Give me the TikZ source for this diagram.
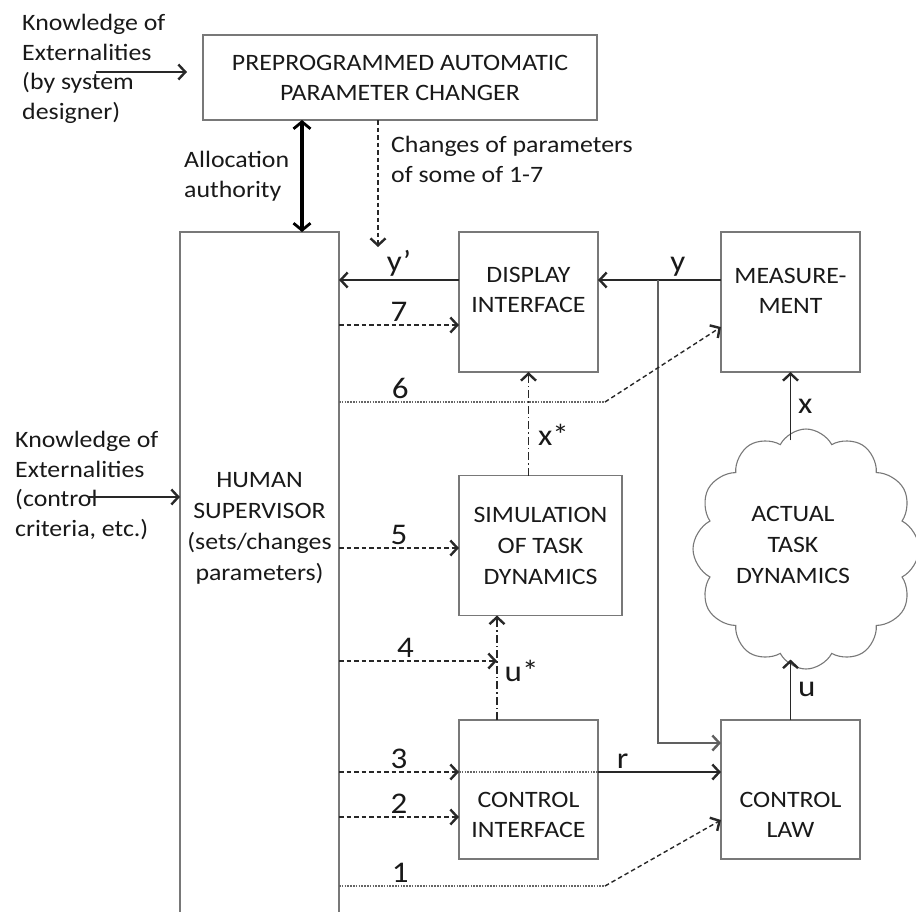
\documentclass[tikz,border=0pt]{standalone}
\usepackage{fontspec}
\setmainfont{Carlito}[FakeStretch=1.1]
\usetikzlibrary{arrows.meta,shapes.symbols}
\definecolor{boxc}{RGB}{120,120,120}
\definecolor{txt}{RGB}{25,25,25}
\definecolor{lnc}{RGB}{40,40,40}
\begin{document}
\begin{tikzpicture}[x=1pt,y=-1pt,
 >={Straight Barb[length=7pt,width=15pt,line width=2.4pt]},
 every node/.style={text=txt},
 tf/.style={font=\fontsize{23.5}{30}\selectfont},
 nf/.style={font=\fontsize{30}{30}\selectfont},
 box/.style={draw=boxc,line width=1.2pt,inner sep=0pt,outer sep=0pt,align=center,tf},
 blabel/.style={align=center,tf,inner sep=0pt},
 conn/.style={draw=lnc,line width=1.4pt},
 dconn/.style={conn,dash pattern=on 4.5pt off 3pt},
 dotconn/.style={draw=boxc!85!black,line width=1.3pt,dash pattern=on 1.5pt off 1.3pt},
 ddconn/.style={conn,dash pattern=on 8pt off 3pt on 1.5pt off 3pt},
 lab/.style={nf,inner sep=3pt},
 note/.style={tf,align=left,anchor=north west,inner sep=0pt},
]
\useasboundingbox (0,0) rectangle (916,911);
\clip (0,0) rectangle (916,911);

% boxes
\node[box,minimum width=394pt,minimum height=85pt] (auto) at (400,77.5) {PREPROGRAMMED AUTOMATIC\\PARAMETER CHANGER};
\node[box,minimum width=159pt,minimum height=703pt,
  label={[blabel,yshift=55pt,font=\fontsize{23.5}{31}\selectfont]center:HUMAN\\SUPERVISOR\\(sets/changes\\parameters)}] (hs) at (259.5,583.5) {};
\node[box,minimum width=139pt,minimum height=140pt,
  label={[blabel,yshift=12pt]center:DISPLAY\\INTERFACE}] (disp) at (528.5,302) {};
\node[box,minimum width=139pt,minimum height=140pt,
  label={[blabel,yshift=11pt]center:MEASURE-\\MENT}] (meas) at (790.5,302) {};
\node[box,minimum width=163pt,minimum height=140pt,font=\fontsize{23.5}{31}\selectfont] (sim) at (540.5,545.5) {SIMULATION\\OF TASK\\DYNAMICS};
\node[box,minimum width=139pt,minimum height=139pt,
  label={[blabel,yshift=-25pt]center:CONTROL\\INTERFACE}] (ci) at (528.5,789.5) {};
\node[box,minimum width=139pt,minimum height=139pt,
  label={[blabel,yshift=-25pt]center:CONTROL\\LAW}] (law) at (790.5,789.5) {};
\node[cloud,draw=boxc,line width=1.1pt,cloud puffs=12,cloud puff arc=125,aspect=0.93,
  minimum width=226pt,minimum height=240pt,inner sep=0pt,
  label={[blabel,xshift=-13pt,yshift=4pt,font=\fontsize{23.5}{31}\selectfont]center:ACTUAL\\TASK\\DYNAMICS}] (cl) at (806,549) {};

% free texts
\node[note,font=\fontsize{23.5}{29.5}\selectfont] (k1) at (22,14) {Knowledge of\\Externalities\\(by system\\designer)};
\node[note,font=\fontsize{23.5}{29.5}\selectfont] (k2) at (15,431) {Knowledge of\\Externalities\\(control\\criteria, etc.)};
\node[note] (aat) at (184,151) {Allocation\\authority};
\node[note] (cpt) at (391,136) {Changes of parameters\\of some of 1-7};

% inputs
\coordinate (k1s) at (96,72);
\coordinate (k1e) at ([xshift=-16pt]auto.west);
\draw[conn,->] (k1s) -- (k1e |- k1s);
\coordinate (k2s) at (88,497);
\draw[conn,->] (k2s) -- (hs.west |- k2s);

% allocation authority
\coordinate (aax) at (302,0);
\draw[line width=3.2pt,draw=black,{Straight Barb[length=7pt,width=17pt,line width=2.8pt]}-{Straight Barb[length=7pt,width=17pt,line width=2.8pt]}] (aax |- auto.south) -- (aax |- hs.north);

% changes of parameters
\coordinate (cpe) at (378,247);
\draw[dconn,->] (cpe |- auto.south) -- (cpe);

% y, y'
\coordinate (ry) at (0,280);
\draw[conn,->] (disp.west |- ry) -- node[lab,above]{y’} (hs.east |- ry);
\draw[conn,->] (meas.west |- ry) -- node[lab,above,pos=0.35]{y} (disp.east |- ry);
\coordinate (br) at (658,280);
\coordinate (rlaw) at (0,743);
\draw[conn,draw=boxc!80!black,->] (br) -- (br |- rlaw) -- (law.west |- rlaw);

% 7
\coordinate (r7) at (0,325);
\draw[dconn,->] (hs.east |- r7) -- node[lab,above]{7} (disp.west |- r7);
% 6
\coordinate (r6) at (605,402);
\coordinate (m6) at (0,327);
\draw[dotconn] (hs.east |- r6) -- node[lab,above,pos=0.23]{6} (r6);
\draw[dconn,->] (r6) -- (meas.west |- m6);

% x*
\draw[ddconn,->] (disp.south |- sim.north) -- node[lab,right,pos=0.39,xshift=6pt]{x*} (disp.south);
% x
\coordinate (xs) at ([yshift=-12pt]cl.north);
\draw[conn,->] (xs -| meas.south) -- node[lab,right,xshift=4pt]{x} (meas.south);

% 5
\coordinate (r5) at (0,548);
\draw[dconn,->] (hs.east |- r5) -- node[lab,above]{5} (sim.west |- r5);

% u*
\coordinate (us) at (497,0);
\draw[ddconn,->] (us |- ci.north) -- node[lab,right,pos=0.47,xshift=4pt]{u*} (us |- sim.south);
% 4
\coordinate (r4) at (0,661);
\draw[dconn,->] (hs.east |- r4) -- node[lab,above,pos=0.42]{4} (us |- r4);

% 3 and r
\coordinate (r3) at (0,772);
\draw[dconn,->] (hs.east |- r3) -- node[lab,above]{3} (ci.west |- r3);
\draw[dotconn] (ci.west |- r3) -- (ci.east |- r3);
\draw[conn,->] (ci.east |- r3) -- node[lab,above,pos=0.2]{r} (law.west |- r3);

% 2
\coordinate (r2) at (0,817);
\draw[dconn,->] (hs.east |- r2) -- node[lab,above]{2} (ci.west |- r2);

% 1
\coordinate (r1) at (605,886);
\coordinate (l1) at (0,820);
\draw[dotconn] (hs.east |- r1) -- node[lab,above,pos=0.23]{1} (r1);
\draw[dconn,->] (r1) -- (law.west |- l1);

% u
\coordinate (ue) at ([yshift=10pt]cl.south);
\draw[conn,->] (law.north) -- node[lab,right,xshift=4pt]{u} (ue -| law.north);
\end{tikzpicture}
\end{document}
